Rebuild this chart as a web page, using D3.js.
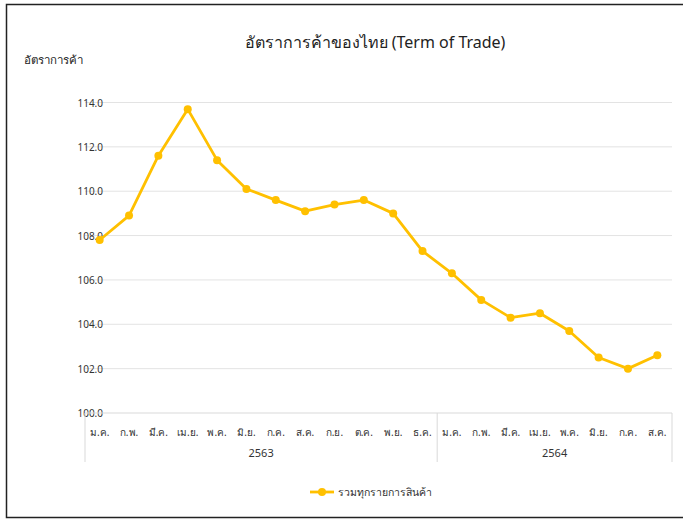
<!DOCTYPE html>
<html>
<head>
<meta charset="utf-8">
<script src="https://cdn.jsdelivr.net/npm/d3@7"></script>
<style>
  body { margin: 0; background: #fff; }
  svg { font-family: Tahoma, "Leelawadee UI", "Noto Sans", "DejaVu Sans", sans-serif; }
</style>
</head>
<body>
<svg id="chart" width="683" height="519"></svg>
<script>
const months = ['ม.ค.', 'ก.พ.', 'มี.ค.', 'เม.ย.', 'พ.ค.', 'มิ.ย.', 'ก.ค.', 'ส.ค.', 'ก.ย.', 'ต.ค.', 'พ.ย.', 'ธ.ค.',
  'ม.ค.', 'ก.พ.', 'มี.ค.', 'เม.ย.', 'พ.ค.', 'มิ.ย.', 'ก.ค.', 'ส.ค.']
const years = ['2563', '2564']
const yearCounts = [12, 8]
const values = [107.8, 108.9, 111.6, 113.7, 111.4, 110.1, 109.6, 109.1, 109.4, 109.6, 109.0, 107.3,
  106.3, 105.1, 104.3, 104.5, 103.7, 102.5, 102.0, 102.6]
const yTicks = [100, 102, 104, 106, 108, 110, 112, 114]
const seriesName = 'รวมทุกรายการสินค้า'

const color = '#FFC000'
const svg = d3.select('#chart')

// frame
svg.append('rect')
  .attr('x', 6.5).attr('y', 4.5)
  .attr('width', 690).attr('height', 513)
  .attr('fill', 'none')
  .attr('stroke', '#222')
  .attr('stroke-width', 1.5)

svg.append('text')
  .attr('x', 375).attr('y', 48)
  .attr('text-anchor', 'middle')
  .attr('font-size', 16)
  .attr('fill', '#222')
  .text('อัตราการค้าของไทย (Term of Trade)')

svg.append('text')
  .attr('x', 24).attr('y', 64)
  .attr('font-size', 11.5)
  .attr('fill', '#222')
  .text('อัตราการค้า')

const idx = d3.range(values.length)
const x = d3.scaleBand().domain(idx).range([85, 672])
const y = d3.scaleLinear().domain([100, 114]).range([413, 102.5])

// gridlines
svg.append('g')
  .selectAll('line')
  .data(yTicks.slice(1))
  .enter().append('line')
  .attr('x1', 85).attr('x2', 672)
  .attr('y1', d => y(d)).attr('y2', d => y(d))
  .attr('stroke', '#e3e3e3')

// y tick labels
svg.append('g')
  .selectAll('text')
  .data(yTicks)
  .enter().append('text')
  .attr('x', 103)
  .attr('y', d => y(d) + 4)
  .attr('text-anchor', 'end')
  .attr('font-size', 10)
  .attr('fill', '#333')
  .text(d => d3.format('.1f')(d))

// category axis
svg.append('line')
  .attr('x1', 85).attr('x2', 672)
  .attr('y1', y(100)).attr('y2', y(100))
  .attr('stroke', '#d9d9d9')

let starts = [0]
yearCounts.forEach((c, i) => starts.push(starts[i] + c))
const seps = starts.map(s => s < values.length ? x(s) : x.range()[1])
svg.append('g')
  .selectAll('line')
  .data(seps)
  .enter().append('line')
  .attr('x1', d => d).attr('x2', d => d)
  .attr('y1', y(100)).attr('y2', 462)
  .attr('stroke', '#d9d9d9')

svg.append('g')
  .selectAll('text')
  .data(months)
  .enter().append('text')
  .attr('x', (d, i) => x(i) + x.bandwidth() / 2)
  .attr('y', 436)
  .attr('text-anchor', 'middle')
  .attr('font-size', 10)
  .attr('fill', '#333')
  .text(d => d)

svg.append('g')
  .selectAll('text')
  .data(years)
  .enter().append('text')
  .attr('x', (d, i) => (seps[i] + seps[i + 1]) / 2)
  .attr('y', 457)
  .attr('text-anchor', 'middle')
  .attr('font-size', 11)
  .attr('fill', '#333')
  .text(d => d)

// series
const line = d3.line()
  .x((d, i) => x(i) + x.bandwidth() / 2)
  .y(d => y(d))

svg.append('path')
  .datum(values)
  .attr('d', line)
  .attr('fill', 'none')
  .attr('stroke', color)
  .attr('stroke-width', 2.8)
  .attr('stroke-linejoin', 'round')

svg.append('g')
  .selectAll('circle')
  .data(values)
  .enter().append('circle')
  .attr('cx', (d, i) => x(i) + x.bandwidth() / 2)
  .attr('cy', d => y(d))
  .attr('r', 4)
  .attr('fill', color)

// legend
const lg = svg.append('g').attr('transform', 'translate(310,492)')
lg.append('line').attr('x1', 0).attr('x2', 24).attr('stroke', color).attr('stroke-width', 2.8)
lg.append('circle').attr('cx', 12).attr('r', 4).attr('fill', color)
lg.append('text')
  .attr('x', 28).attr('y', 4)
  .attr('font-size', 10.5)
  .attr('fill', '#333')
  .text(seriesName)
</script>
</body>
</html>
